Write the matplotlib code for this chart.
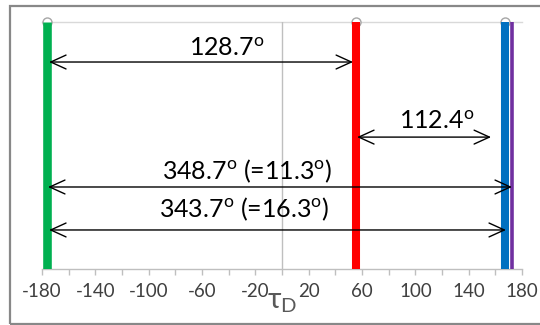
import matplotlib
matplotlib.use("Agg")
import matplotlib.pyplot as plt
from matplotlib.patches import Rectangle

# ---- data ----
line_angles = [-176.1, 55.2, 167.6, 172.6]
line_colors = ["#00B050", "#FF0000", "#0070C0", "#7030A0"]
line_widths = [6.2, 5.8, 5.8, 2.6]
marker_angles = [-176.1, 55.2, 167.6]

arrow_starts = [-174.7, 56.3, -175.5, -174.7]
arrow_ends = [53.3, 156.8, 172.5, 168.0]
arrow_levels = [0.838, 0.534, 0.332, 0.158]

label_texts = [r"128.7$^{\mathrm{o}}$", r"112.4$^{\mathrm{o}}$",
               r"348.7$^{\mathrm{o}}$ (=11.3$^{\mathrm{o}}$)",
               r"343.7$^{\mathrm{o}}$ (=16.3$^{\mathrm{o}}$)"]
label_x = [-41.3, 115.9, -26.3, -28.1]
label_y = [0.893, 0.597, 0.395, 0.243]

tick_values = list(range(-180, 181, 20))
tick_labels = [str(v) if (v + 180) % 40 == 0 else "" for v in tick_values]

plt.rcParams['font.family'] = ['Lato', 'DejaVu Sans']
plt.rcParams['mathtext.fontset'] = 'custom'
plt.rcParams['mathtext.rm'] = 'Lato'
plt.rcParams['mathtext.it'] = 'Lato:italic'
plt.rcParams['mathtext.bf'] = 'Lato:bold'

fig = plt.figure(figsize=(5.4, 3.25), dpi=100)
fig.patches.append(Rectangle((10/540, 1 - 324/325), 540/540, (324-6)/325,
                             transform=fig.transFigure, fill=False,
                             edgecolor="#888888", linewidth=1.6))
ax = fig.add_axes([42/540, 56/325, 480/540, 247/325])
ax.set_xlim(-180, 180)
ax.set_ylim(0, 1)

# grid / axes styling
ax.axhline(1, color="#D9D9D9", linewidth=1.0, zorder=1, clip_on=False)
ax.axvline(0, color="#BFBFBF", linewidth=1.0, zorder=1)
for s in ["top", "right", "left"]:
    ax.spines[s].set_visible(False)
ax.spines["bottom"].set_color("#BFBFBF")
ax.spines["bottom"].set_linewidth(1.0)
ax.set_yticks([])
ax.set_xticks(tick_values)
ax.set_xticklabels(tick_labels)
ax.tick_params(axis="x", direction="out", length=4, width=1, color="#BFBFBF",
               labelsize=13.5, labelcolor="#404040", pad=6)

# circles at top
ax.plot(marker_angles, [1.0] * len(marker_angles), linestyle="none", marker="o",
        markersize=6.5, markerfacecolor="white", markeredgecolor="#A6A6A6",
        markeredgewidth=1.0, zorder=2, clip_on=False)

# vertical lines
for a, c, w in zip(line_angles, line_colors, line_widths):
    ax.plot([a, a], [0, 1], color=c, linewidth=w, solid_capstyle="butt", zorder=3)

# arrows
for x0, x1, y in zip(arrow_starts, arrow_ends, arrow_levels):
    ax.annotate("", xy=(x1, y), xytext=(x0, y),
                arrowprops=dict(arrowstyle="<->,head_length=1.1,head_width=0.5",
                                color="black", linewidth=1.0,
                                shrinkA=0, shrinkB=0), zorder=4)

for t, x, y in zip(label_texts, label_x, label_y):
    ax.text(x, y, t, ha="center", va="center", fontsize=18, color="black", zorder=5)

ax.set_xlabel(r"$\mathregular{\tau_D}$", fontsize=21, color="#595959", labelpad=-8)

fig.savefig("out.png", dpi=100)
